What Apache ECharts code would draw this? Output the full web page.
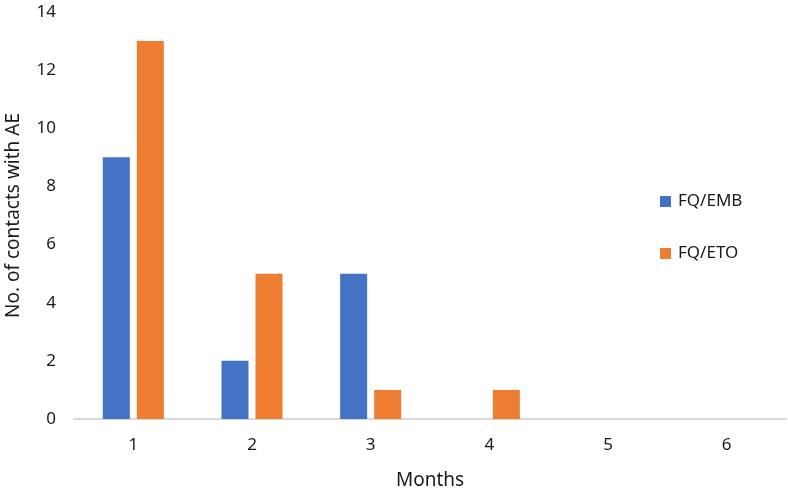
<!DOCTYPE html>
<html lang="en">
<head>
    <meta charset="UTF-8">
    <title>Contacts with AE by month</title>
    <script src="https://cdn.jsdelivr.net/npm/echarts@6/dist/echarts.min.js"></script>
    <style>
        html, body { margin: 0; padding: 0; background: #fff; }
        #chart { width: 788px; height: 493px; }
    </style>
</head>
<body>
    <div id="chart"></div>
<script>
    // months on the x axis
    var months = ['1', '2', '3', '4', '5', '6'];
    var embValues = [9, 2, 5, 0, 0, 0];
    var etoValues = [13, 5, 1, 1, 0, 0];
    var yTicks = { min: 0, max: 14, step: 2 };

    var txt = '#1a1a1a';
    var font = 'Noto Sans';

    var chart = echarts.init(document.getElementById('chart'));
    chart.setOption({
        animation: false,
        textStyle: { fontFamily: font },
        grid: { left: 74, right: 2, top: 12, bottom: 74, outerBoundsMode: 'none' },
        legend: {
            orient: 'vertical',
            left: 655,
            top: 188,
            itemWidth: 11,
            itemHeight: 11,
            itemGap: 35,
            icon: 'rect',
            textStyle: { color: txt, fontSize: 17, fontFamily: font, padding: [0, 0, 0, 2] },
            data: ['FQ/EMB', 'FQ/ETO']
        },
        xAxis: {
            type: 'category',
            data: months,
            name: 'Months',
            nameLocation: 'middle',
            nameGap: 52,
            nameTextStyle: { color: txt, fontSize: 19 },
            axisTick: { show: false },
            axisLine: { lineStyle: { color: '#d9d9d9', width: 2 } },
            axisLabel: { color: txt, fontSize: 17, margin: 18 }
        },
        yAxis: {
            type: 'value',
            min: yTicks.min,
            max: yTicks.max,
            interval: yTicks.step,
            name: 'No. of contacts with AE',
            nameLocation: 'middle',
            nameGap: 51,
            nameRotate: 90,
            nameTextStyle: { color: txt, fontSize: 19 },
            splitLine: { show: false },
            axisLine: { show: false },
            axisTick: { show: false },
            axisLabel: { color: txt, fontSize: 17, margin: 18 }
        },
        series: [
            {
                name: 'FQ/EMB',
                type: 'bar',
                data: embValues,
                barWidth: 27,
                barGap: '26%',
                itemStyle: { color: '#4472C4' }
            },
            {
                name: 'FQ/ETO',
                type: 'bar',
                data: etoValues,
                barWidth: 27,
                barGap: '26%',
                itemStyle: { color: '#ED7D31' }
            }
        ]
    });
</script>
</body>
</html>
